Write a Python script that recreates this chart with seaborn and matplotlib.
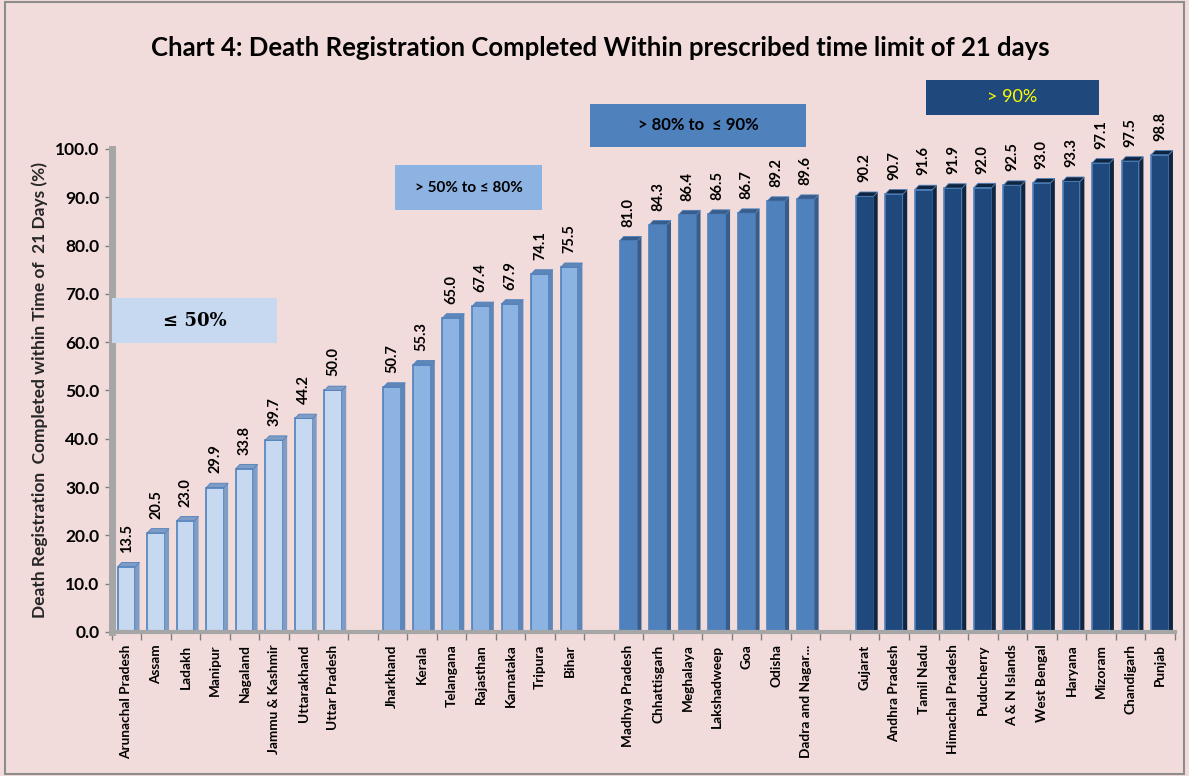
import matplotlib
matplotlib.use("Agg")
import matplotlib.pyplot as plt
import seaborn as sns
import pandas as pd
import numpy as np
from matplotlib.patches import Polygon, Rectangle

states_le50 = ["Arunachal Pradesh", "Assam", "Ladakh", "Manipur", "Nagaland",
               "Jammu & Kashmir", "Uttarakhand", "Uttar Pradesh"]
values_le50 = [13.5, 20.5, 23.0, 29.9, 33.8, 39.7, 44.2, 50.0]

states_50_80 = ["Jharkhand", "Kerala", "Telangana", "Rajasthan", "Karnataka", "Tripura", "Bihar"]
values_50_80 = [50.7, 55.3, 65.0, 67.4, 67.9, 74.1, 75.5]

states_80_90 = ["Madhya Pradesh", "Chhattisgarh", "Meghalaya", "Lakshadweep", "Goa",
                "Odisha", "Dadra and Nagar..."]
values_80_90 = [81.0, 84.3, 86.4, 86.5, 86.7, 89.2, 89.6]

states_gt90 = ["Gujarat", "Andhra Pradesh", "Tamil Nadu", "Himachal Pradesh", "Puducherry",
               "A & N Islands", "West Bengal", "Haryana", "Mizoram", "Chandigarh", "Punjab"]
values_gt90 = [90.2, 90.7, 91.6, 91.9, 92.0, 92.5, 93.0, 93.3, 97.1, 97.5, 98.8]

group_labels = ["≤ 50%", "> 50% to ≤ 80%", "> 80% to  ≤ 90%", "> 90%"]
group_colors = ["#C6D9F1", "#8DB3E2", "#4F81BD", "#1F497D"]
side_colors = ["#7F9CC4", "#5E86B8", "#385D8A", "#10253F"]
edge_colors = ["#4F81BD", "#4F81BD", "#4F81BD", "#4F81BD"]

title = "Chart 4: Death Registration Completed Within prescribed time limit of 21 days"
ylabel = "Death Registration  Completed within Time of  21 Days (%)"

# build table with a one-slot gap between groups
rows = []
pos = 0
for gi, (sts, vals) in enumerate([(states_le50, values_le50), (states_50_80, values_50_80),
                                  (states_80_90, values_80_90), (states_gt90, values_gt90)]):
    for s, v in zip(sts, vals):
        rows.append({"pos": pos, "state": s, "value": v, "group": group_labels[gi]})
        pos += 1
    pos += 1
df = pd.DataFrame(rows)
nslots = pos - 1

sns.set_theme(style="white")
plt.rcParams['font.family'] = ['Lato', 'DejaVu Sans']

bg = "#F2DCDB"
fig = plt.figure(figsize=(11.89, 7.76), dpi=100, facecolor=bg)
ax = fig.add_axes([0.094, 0.1856, 0.894, 0.6224])
ax.set_facecolor(bg)

sns.barplot(data=df, x="pos", y="value", hue="group", hue_order=group_labels,
            palette=dict(zip(group_labels, group_colors)), native_scale=True,
            dodge=False, width=0.6, legend=False, ax=ax, saturation=1,
            edgecolor="#4F81BD", linewidth=1.2)

# 3D side and top faces derived from bar geometry
dx, dy = 0.14, 0.9
for patch, (_, r) in zip(ax.patches, df.iterrows()):
    gi = group_labels.index(r["group"])
    x0 = patch.get_x(); w = patch.get_width(); h = patch.get_height()
    side = Polygon([[x0 + w, 0], [x0 + w + dx, dy * 0.3], [x0 + w + dx, h + dy], [x0 + w, h]],
                   closed=True, facecolor=side_colors[gi], edgecolor="none", zorder=1.5)
    top = Polygon([[x0, h], [x0 + w, h], [x0 + w + dx, h + dy], [x0 + dx, h + dy]],
                  closed=True, facecolor=side_colors[gi], edgecolor=edge_colors[gi], lw=0.6, zorder=1.5)
    ax.add_patch(side); ax.add_patch(top)
    ax.annotate(f"{r['value']:.1f}", (r["pos"], h + dy), xytext=(0, 7), textcoords="offset points",
                rotation=90, ha="center", va="bottom", fontsize=10.5, fontweight="bold", color="black")

ax.set_xlim(-0.5, nslots - 0.5)
ax.set_ylim(0, 100)
ax.set_yticks(np.arange(0, 101, 10))
ax.set_yticklabels([f"{v:.1f}" for v in np.arange(0, 101, 10)], fontsize=12.5, fontweight="bold")
ax.set_xticks(df["pos"])
ax.set_xticklabels(df["state"], rotation=90, fontsize=9.8, fontweight="bold")
ax.set_xticks(np.arange(-0.5, nslots, 1), minor=True)
ax.tick_params(axis="x", which="major", length=0, pad=9, colors="black")
ax.tick_params(axis="x", which="minor", length=6, width=1, color="#7F7F7F", bottom=True)
ax.tick_params(axis="y", length=5, width=1, color="#7F7F7F", left=True, pad=4, labelcolor="black")
ax.set_xlabel("")
ax.set_ylabel(ylabel, fontsize=12.5, fontweight="bold", labelpad=5)

for s in ["top", "right"]:
    ax.spines[s].set_visible(False)
ax.spines["left"].set_color("#A6A6A6"); ax.spines["left"].set_linewidth(5)
ax.spines["bottom"].set_color("#A6A6A6"); ax.spines["bottom"].set_linewidth(3)
ax.grid(False)

fig.text(0.505, 0.938, title, ha="center", va="center", fontsize=18.5, fontweight="bold", color="black")

def box(x0, y0, x1, y1, color, label, tcolor, weight, size, family=None):
    fig.patches.append(Rectangle((x0 / 1189, 1 - y1 / 776), (x1 - x0) / 1189, (y1 - y0) / 776,
                                 transform=fig.transFigure, facecolor=color, edgecolor="none", zorder=3))
    kw = {}
    if family:
        kw["family"] = family
    fig.text((x0 + x1) / 2 / 1189, 1 - (y0 + y1) / 2 / 776, label, ha="center", va="center",
             color=tcolor, fontsize=size, fontweight=weight, zorder=4, **kw)

box(112, 298, 277, 343, group_colors[0], "≤ 50%", "black", "bold", 13, ["DejaVu Serif"])
box(395, 165, 542, 210, group_colors[1], "> 50% to ≤ 80%", "black", "bold", 11)
box(590, 104, 806, 147, group_colors[2], "> 80% to  ≤ 90%", "black", "bold", 12)
box(926, 80, 1099, 115, group_colors[3], "> 90%", "#FFFF00", "normal", 13)

fig.patches.append(Rectangle((0.004, 0.003), 0.992, 0.994, transform=fig.transFigure,
                             facecolor="none", edgecolor="#8C8C8C", lw=1.5, zorder=5))

fig.savefig("out.png", dpi=100, facecolor=bg)
